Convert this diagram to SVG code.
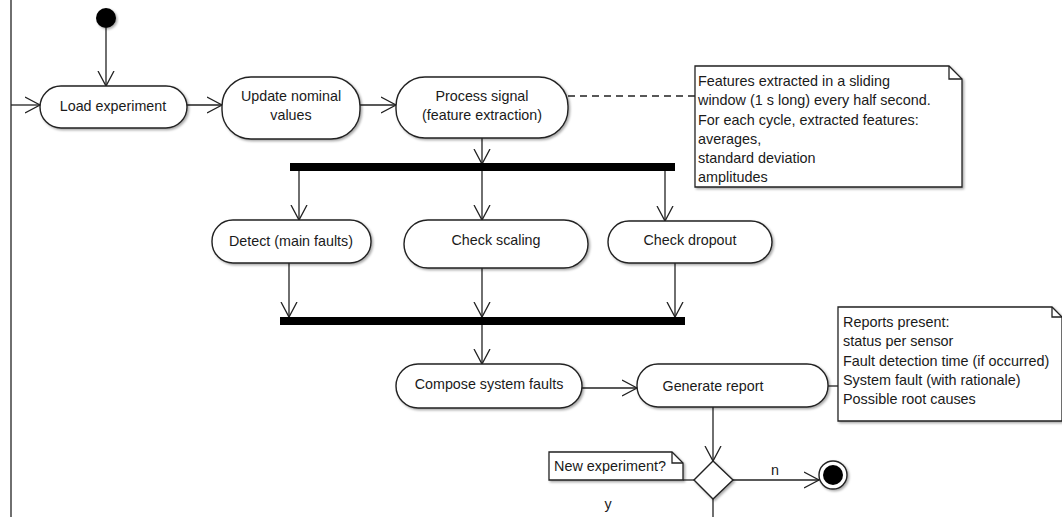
<svg xmlns="http://www.w3.org/2000/svg" width="1062" height="517" viewBox="0 0 1062 517">
<defs>
<marker id="arr" markerWidth="18" markerHeight="20" refX="15" refY="9" orient="auto" markerUnits="userSpaceOnUse">
<path d="M0,1 L15,9 L0,17" fill="none" stroke="#222" stroke-width="1.3"/>
</marker>
<filter id="sh" x="-10%" y="-10%" width="125%" height="130%">
<feDropShadow dx="1.5" dy="1.5" stdDeviation="1" flood-color="#000" flood-opacity="0.35"/>
</filter>
</defs>
<style>
.act{fill:#fff;stroke:#222;stroke-width:1.4;filter:url(#sh)}
.note{fill:#fff;stroke:#222;stroke-width:1.3;filter:url(#sh)}
.fold{fill:none;stroke:#222;stroke-width:1.3}
.bar{fill:#000}
.t{font-family:"Liberation Sans",Arial,sans-serif;font-size:14.3px;fill:#1a1a1a;text-anchor:middle}
.tl{font-family:"Liberation Sans",Arial,sans-serif;font-size:14.4px;fill:#1a1a1a}
.c{fill:none;stroke:#222;stroke-width:1.3}
.ca{fill:none;stroke:#222;stroke-width:1.3;marker-end:url(#arr)}
.dash{fill:none;stroke:#222;stroke-width:1.3;stroke-dasharray:7,5}
</style>
<rect width="1062" height="517" fill="#fff"/>

<g id="connectors">
<line class="c" x1="11" y1="0" x2="11" y2="517"/>
<line class="ca" x1="11" y1="105" x2="40" y2="105"/>
<line class="ca" x1="106" y1="28" x2="106" y2="86"/>
<line class="ca" x1="187" y1="105" x2="222" y2="105"/>
<line class="ca" x1="360" y1="105" x2="396" y2="105"/>
<line class="dash" x1="568" y1="96" x2="695" y2="96"/>
<line class="ca" x1="482" y1="138" x2="482" y2="164"/>
<line class="ca" x1="299" y1="171" x2="299" y2="220"/>
<line class="ca" x1="482" y1="171" x2="482" y2="220"/>
<line class="ca" x1="665" y1="171" x2="665" y2="221"/>
<line class="ca" x1="289" y1="263" x2="289" y2="317"/>
<line class="ca" x1="482" y1="268" x2="482" y2="317"/>
<line class="ca" x1="675" y1="263" x2="675" y2="317"/>
<line class="ca" x1="482" y1="325" x2="482" y2="364"/>
<line class="ca" x1="582" y1="388" x2="637" y2="388"/>
<line class="c" x1="828" y1="386" x2="838" y2="386"/>
<line class="ca" x1="713" y1="407" x2="713" y2="461"/>
<line class="ca" x1="733" y1="480" x2="819" y2="480"/>
<line class="c" x1="683" y1="480" x2="694" y2="480"/>
<line class="c" x1="713" y1="499" x2="713" y2="517"/>
<text class="t" x="775" y="475">n</text>
<text class="t" x="608" y="509">y</text>
</g>

<g id="start"><circle cx="106" cy="18" r="10" fill="#000" filter="url(#sh)"/></g>

<g id="load-experiment">
<rect class="act" x="40" y="86" width="147" height="42" rx="21"/>
<text class="t" x="113" y="111">Load experiment</text>
</g>

<g id="update-nominal">
<rect class="act" x="222" y="77" width="138" height="62" rx="29"/>
<text class="t" x="291" y="101">Update nominal</text>
<text class="t" x="291" y="120">values</text>
</g>

<g id="process-signal">
<rect class="act" x="396" y="77" width="172" height="61" rx="29"/>
<text class="t" x="482" y="101">Process signal</text>
<text class="t" x="482" y="120">(feature extraction)</text>
</g>

<g id="note-features">
<path class="note" d="M695,66 H949 L962,79 V187 H695 Z"/>
<path class="fold" d="M949,66 V79 H962"/>
<text class="tl" x="698" y="86">Features extracted in a sliding</text>
<text class="tl" x="698" y="105">window (1 s long) every half second.</text>
<text class="tl" x="698" y="125">For each cycle, extracted features:</text>
<text class="tl" x="698" y="144">averages,</text>
<text class="tl" x="698" y="163">standard deviation</text>
<text class="tl" x="698" y="182">amplitudes</text>
</g>

<g id="fork"><rect class="bar" x="290" y="163" width="385" height="8"/></g>

<g id="detect">
<rect class="act" x="212" y="220" width="159" height="43" rx="21"/>
<text class="t" x="291" y="246">Detect (main faults)</text>
</g>

<g id="check-scaling">
<rect class="act" x="404" y="220" width="184" height="48" rx="24"/>
<text class="t" x="496" y="245">Check scaling</text>
</g>

<g id="check-dropout">
<rect class="act" x="608" y="221" width="164" height="42" rx="21"/>
<text class="t" x="690" y="245">Check dropout</text>
</g>

<g id="join"><rect class="bar" x="280" y="317" width="405" height="8"/></g>

<g id="compose">
<rect class="act" x="396" y="364" width="186" height="44" rx="22"/>
<text class="t" x="489" y="389">Compose system faults</text>
</g>

<g id="generate-report">
<rect class="act" x="637" y="364" width="191" height="43" rx="21"/>
<text class="t" x="713" y="391">Generate report</text>
</g>

<g id="note-reports">
<path class="note" d="M838,307 H1052 L1062,317 V421 H838 Z"/>
<path class="fold" d="M1052,307 V317 H1062"/>
<text class="tl" x="843" y="327">Reports present:</text>
<text class="tl" x="843" y="346">status per sensor</text>
<text class="tl" x="843" y="366">Fault detection time (if occurred)</text>
<text class="tl" x="843" y="385">System fault (with rationale)</text>
<text class="tl" x="843" y="404">Possible root causes</text>
</g>

<g id="decision">
<path class="act" d="M713,461 L733,480 L713,499 L694,480 Z"/>
</g>

<g id="note-new-experiment">
<path class="note" d="M549,452 H672 L683,463 V480 H549 Z"/>
<path class="fold" d="M672,452 V463 H683"/>
<text class="tl" x="554" y="471">New experiment?</text>
</g>

<g id="end">
<circle cx="833" cy="475" r="14" fill="#fff" stroke="#222" stroke-width="1.4" filter="url(#sh)"/>
<circle cx="833" cy="475" r="10" fill="#000"/>
</g>
</svg>
